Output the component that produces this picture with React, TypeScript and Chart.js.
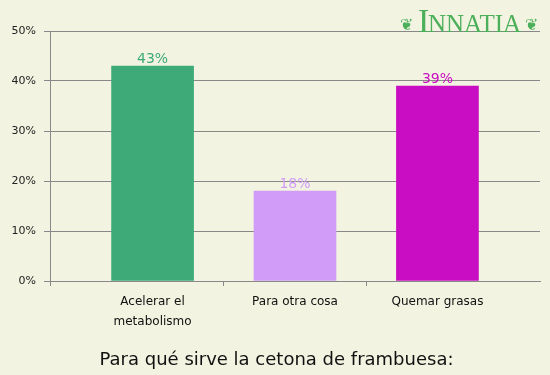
import React, { useEffect, useRef } from "react";
import { Chart, registerables } from "chart.js";

Chart.register(...registerables);

const categories: (string | string[])[] = [["Acelerar el", "metabolismo"], "Para otra cosa", "Quemar grasas"];
const values = [43, 18, 39];
const barColors = ["#3daa78", "#d09cf7", "#c90dc2"];
const yTicks = [0, 10, 20, 30, 40, 50];
const titleText = "Para qué sirve la cetona de frambuesa:";
const logoText = "INNATIA";

const FONT = "'DejaVu Sans', sans-serif";

export default function App() {
  const ref = useRef<HTMLCanvasElement | null>(null);
  useEffect(() => {
    document.body.style.margin = "0";
    const canvas = ref.current!;
    const labelPlugin = {
      id: "valueLabels",
      afterDatasetsDraw(chart: any) {
        const ctx = chart.ctx;
        const meta = chart.getDatasetMeta(0);
        ctx.save();
        ctx.font = `14px ${FONT}`;
        ctx.textAlign = "center";
        ctx.textBaseline = "alphabetic";
        meta.data.forEach((el: any, i: number) => {
          ctx.fillStyle = barColors[i];
          ctx.fillText(`${values[i]}%`, el.x, el.y - 3);
        });
        ctx.restore();
      },
      afterDraw(chart: any) {
        const ctx = chart.ctx;
        const area = chart.chartArea;
        ctx.save();
        // small extension of the y axis below the x axis
        ctx.strokeStyle = "#888";
        ctx.lineWidth = 1;
        ctx.beginPath();
        ctx.moveTo(Math.round(area.left) + 0.5, area.bottom);
        ctx.lineTo(Math.round(area.left) + 0.5, area.bottom + 5);
        ctx.stroke();
        // title
        ctx.fillStyle = "#111";
        ctx.font = `18px ${FONT}`;
        ctx.textAlign = "center";
        ctx.textBaseline = "alphabetic";
        ctx.fillText(titleText, 276.5, 365);
        // logo
        ctx.fillStyle = "#4caf5a";
        ctx.textAlign = "left";
        ctx.font = `34px 'Liberation Serif', serif`;
        ctx.fillText(logoText[0], 418, 32);
        ctx.font = `25px 'Liberation Serif', serif`;
        ctx.fillText(logoText.slice(1), 428, 32);
        ctx.font = `16px ${FONT}`;
        ctx.fillText("❦", 400, 30);
        ctx.fillText("❦", 525, 30);
        ctx.restore();
      },
    };
    const chart = new Chart(canvas, {
      type: "bar",
      data: {
        datasets: [
          {
            data: values.map((v, i) => ({ x: i, y: v })),
            backgroundColor: barColors,
            barThickness: 82,
          },
        ],
      },
      options: {
        responsive: false,
        animation: false,
        layout: { padding: { top: 31, right: 10, left: 0, bottom: 34 } },
        plugins: {
          legend: { display: false },
          tooltip: { enabled: false },
          title: { display: false },
        },
        scales: {
          x: {
            type: "linear",
            min: -0.72,
            max: 2.72,
            offset: false,
            bounds: "ticks",
            afterBuildTicks(scale: any) {
              scale.ticks = categories.map((_, i) => ({ value: i }));
            },
            afterFit(scale: any) {
              scale.height = 60;
            },
            ticks: {
              autoSkip: false,
              maxRotation: 0,
              padding: 6,
              color: "#111",
              font: { family: FONT, size: 12, lineHeight: "20px" },
              callback: (v: any) => categories[v as number] as any,
            },
            grid: {
              offset: true,
              drawOnChartArea: false,
              drawTicks: true,
              tickLength: 5,
              color: (c: any) => (c.index === 1 || c.index === 2 ? "#888" : "rgba(0,0,0,0)"),
            },
            border: { display: true, color: "#888" },
          },
          y: {
            min: 0,
            max: 50,
            afterBuildTicks(scale: any) {
              scale.ticks = yTicks.map((v) => ({ value: v }));
            },
            afterFit(scale: any) {
              scale.width = 50;
            },
            ticks: {
              padding: 8,
              color: "#222",
              font: { family: FONT, size: 11 },
              callback: (v: any) => `${v}%`,
            },
            grid: { color: "#888", lineWidth: 1, tickLength: 6, drawTicks: true },
            border: { display: true, color: "#888" },
          },
        },
      },
      plugins: [labelPlugin],
    } as any);
    return () => chart.destroy();
  }, []);
  return (
    <div style={{ width: 550, height: 375, background: "#f3f3e1" }}>
      <canvas ref={ref} width={550} height={375} style={{ display: "block" }} />
    </div>
  );
}
